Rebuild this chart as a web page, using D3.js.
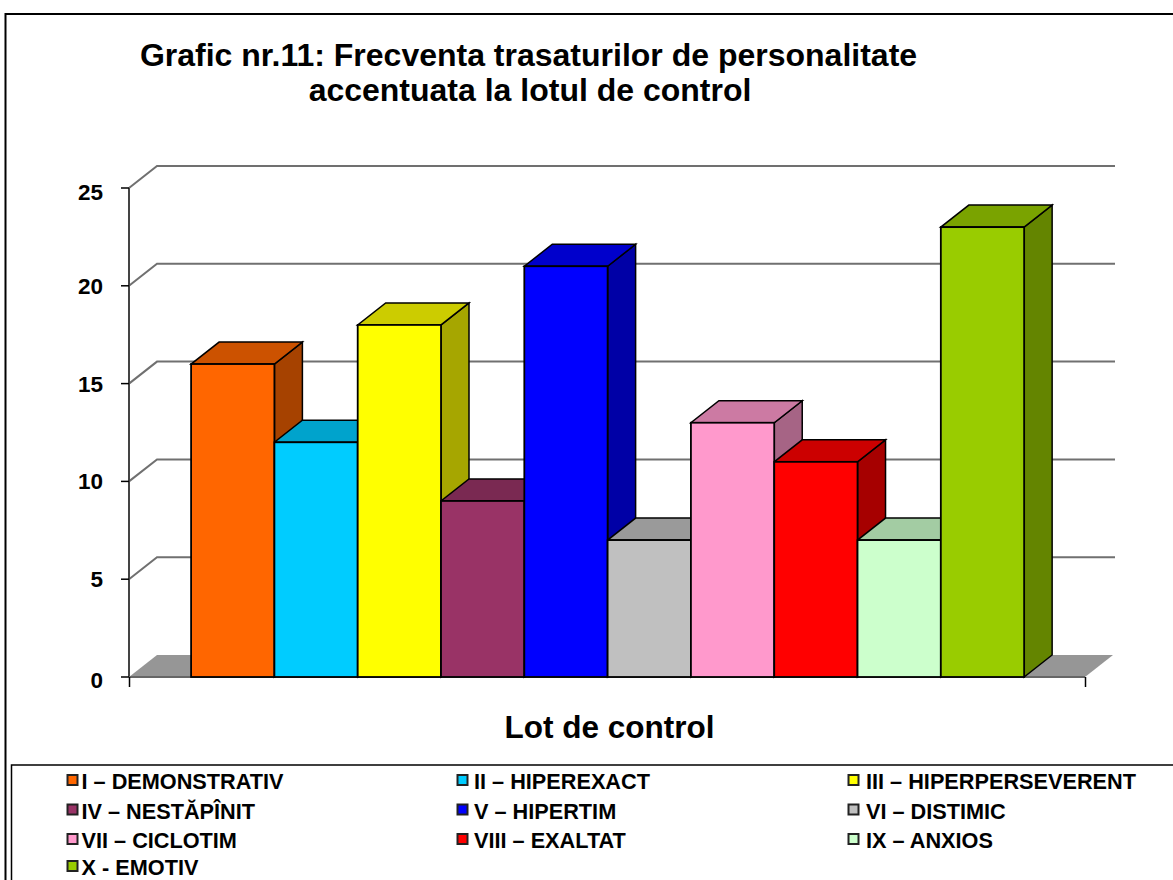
<!DOCTYPE html>
<html><head><meta charset="utf-8">
<script src="https://cdn.jsdelivr.net/npm/d3@7"></script>
<style>html,body{margin:0;padding:0;background:#fff}svg{display:block}
text{font-family:"Liberation Sans",Arial,sans-serif;font-weight:bold;fill:#000}</style>
</head><body><svg id="c" width="1173" height="880"></svg>
<script>
const categories=["I – DEMONSTRATIV","II – HIPEREXACT","III – HIPERPERSEVERENT","IV – NESTĂPÎNIT","V – HIPERTIM","VI – DISTIMIC","VII – CICLOTIM","VIII – EXALTAT","IX – ANXIOS","X - EMOTIV"];
const values=[16,12,18,9,21,7,13,11,7,23];
const colors=["#ff6600","#00ccff","#ffff00","#993366","#0000ff","#c0c0c0","#ff99cc","#ff0000","#ccffcc","#99cc00"];
const yTicks=[0,5,10,15,20,25];
const titleLines=["Grafic nr.11: Frecventa trasaturilor de personalitate","accentuata la lotul de control"];
const axisTitle="Lot de control";

const svg=d3.select("#c");
const dx=28,dy=-22;
const x=d3.scaleBand().domain(categories).range([129,1085]).paddingInner(0).paddingOuter(0.738).align(0.505);
const y=d3.scaleLinear().domain([0,25]).range([677,188]);
const pts=a=>a.map(p=>p.join(",")).join(" ");

// outer frame
svg.append("path").attr("d","M5.5,880V14H1173").attr("fill","none").attr("stroke","#000").attr("stroke-width",2);

// title
svg.append("text").attr("x",528.5).attr("y",66).attr("text-anchor","middle").attr("font-size",32).text(titleLines[0]);
svg.append("text").attr("x",530).attr("y",101).attr("text-anchor","middle").attr("font-size",32).text(titleLines[1]);

// gridlines (back wall + side wall)
yTicks.slice(1).forEach(t=>{
  svg.append("path").attr("d",`M${x.range()[0]},${y(t)}l${dx},${dy}H${x.range()[1]+dx+2}`)
    .attr("fill","none").attr("stroke","#707070").attr("stroke-width",2);
});
// floor
svg.append("polygon").attr("points",pts([[129,y(0)],[129+dx,y(0)+dy],[1085+dx,y(0)+dy],[1085,y(0)]])).attr("fill","#969696");
// axes
svg.append("line").attr("x1",129).attr("x2",129).attr("y1",y(25)).attr("y2",y(0)).attr("stroke","#444").attr("stroke-width",2);
svg.append("line").attr("x1",129).attr("x2",1085).attr("y1",y(0)).attr("y2",y(0)).attr("stroke","#666").attr("stroke-width",2);
svg.append("line").attr("x1",1085.5).attr("x2",1085.5).attr("y1",y(0)).attr("y2",y(0)+10).attr("stroke","#000").attr("stroke-width",1.5);
svg.append("line").attr("x1",129.5).attr("x2",129.5).attr("y1",y(0)).attr("y2",y(0)+10).attr("stroke","#000").attr("stroke-width",1.5);
yTicks.forEach(t=>{
  svg.append("line").attr("x1",121).attr("x2",129).attr("y1",y(t)).attr("y2",y(t)).attr("stroke","#000").attr("stroke-width",1.5);
  const off=t===25?12:t===0?11:8;
  svg.append("text").attr("x",103).attr("y",y(t)+off).attr("text-anchor","end").attr("font-size",22.5).text(t);
});

const data=categories.map((c,i)=>({c,v:values[i],col:colors[i]}));
// sides and tops, left to right, so each top lies over the side of its left neighbour
data.forEach(d=>{
  const l=x(d.c),r=l+x.bandwidth(),t=y(d.v),b=y(0);
  svg.append("polygon").attr("points",pts([[r,t],[r+dx,t+dy],[r+dx,b+dy],[r,b]])).attr("fill",d3.rgb(d.col).darker(1.2).formatHex()).attr("stroke","#000").attr("stroke-width",1.5);
  svg.append("polygon").attr("points",pts([[l,t],[r,t],[r+dx,t+dy],[l+dx,t+dy]])).attr("fill",d3.rgb(d.col).darker(0.625).formatHex()).attr("stroke","#000").attr("stroke-width",1.5);
});
// fronts
svg.selectAll("rect.front").data(data).join("rect").attr("class","front")
  .attr("x",d=>x(d.c)).attr("y",d=>y(d.v)).attr("width",x.bandwidth()).attr("height",d=>y(0)-y(d.v))
  .attr("fill",d=>d.col).attr("stroke","#000").attr("stroke-width",1.8);

// axis title
svg.append("text").attr("x",609.5).attr("y",738).attr("text-anchor","middle").attr("font-size",31.5).text(axisTitle);

// legend
svg.append("path").attr("d","M11.5,880V765H1173").attr("fill","none").attr("stroke","#000").attr("stroke-width",1.5);
const legSwatchX=[72.5,462.5,853.5],legTextX=[81.5,474,866],legY=[780,809.5,839,866];
data.forEach((d,i)=>{
  const col=i%3,row=Math.floor(i/3);
  svg.append("rect").attr("x",legSwatchX[col]-5).attr("y",legY[row]-5).attr("width",10).attr("height",10).attr("fill",d.col).attr("stroke","#222").attr("stroke-width",2);
  svg.append("text").attr("x",legTextX[col]).attr("y",legY[row]+9).attr("font-size",21.7).text(d.c);
});
</script></body></html>
